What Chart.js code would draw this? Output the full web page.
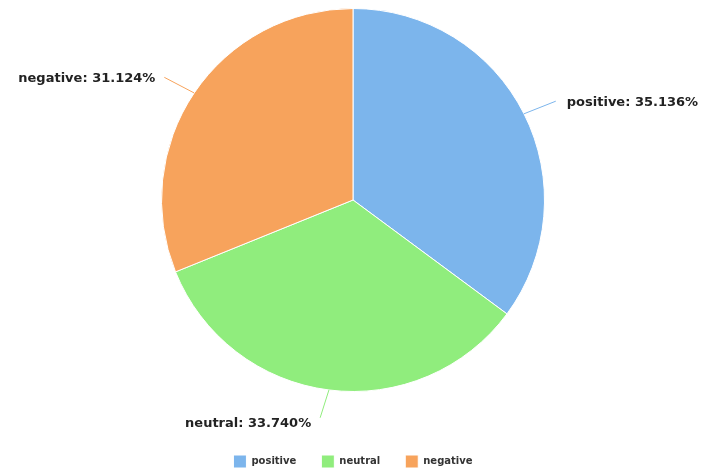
<!DOCTYPE html>
<html>
<head>
<meta charset="utf-8">
<script src="https://cdn.jsdelivr.net/npm/chart.js@4.4.0/dist/chart.umd.min.js"></script>
<style>
    html, body { margin: 0; padding: 0; background: #fff; }
    #wrap { width: 703px; height: 470px; }
</style>
</head>
<body>
<div id="wrap"><canvas id="sentimentChart" width="703" height="470"></canvas></div>
<script>
const categories = ['positive', 'neutral', 'negative'];
const shares = [35.136, 33.740, 31.124];
const sliceColors = ['#7cb5ec', '#90ed7d', '#f7a35c'];

// draws "name: value%" labels with a short connector line
const pieLabels = {
    id: 'pieLabels',
    afterDraw(chart) {
        const ctx = chart.ctx;
        const meta = chart.getDatasetMeta(0);
        ctx.save();
        ctx.font = 'bold 13px "DejaVu Sans", sans-serif';
        ctx.textBaseline = 'middle';
        meta.data.forEach((arc, i) => {
            const mid = (arc.startAngle + arc.endAngle) / 2;
            const cos = Math.cos(mid), sin = Math.sin(mid);
            const r = arc.outerRadius;
            const x0 = arc.x + cos * r, y0 = arc.y + sin * r;
            const side = cos >= 0 ? 1 : -1;
            const x1 = x0 + cos * 30 + side * 5;
            const y1 = y0 + sin * 28;
            ctx.strokeStyle = sliceColors[i];
            ctx.lineWidth = 1;
            ctx.beginPath();
            ctx.moveTo(x0, y0);
            ctx.lineTo(x1, y1);
            ctx.stroke();
            ctx.fillStyle = '#222';
            ctx.textAlign = side > 0 ? 'left' : 'right';
            const text = categories[i] + ': ' + shares[i].toFixed(3) + '%';
            ctx.fillText(text, x1 + (side > 0 ? 11 : -9), y1 + (sin > 0.8 ? 6 : 1));
        });
        ctx.restore();
    }
};

// keep the legend low without shrinking the pie
const legendHeight = {
    id: 'legendHeight',
    beforeInit(chart) {
        const fit = chart.legend.fit;
        chart.legend.fit = function () {
            fit.bind(chart.legend)();
            this.height = 78;
        };
    }
};

new Chart(document.getElementById('sentimentChart').getContext('2d'), {
    type: 'pie',
    data: {
        labels: categories,
        datasets: [{
            data: shares,
            backgroundColor: sliceColors,
            borderColor: '#ffffff',
            borderWidth: 1
        }]
    },
    options: {
        responsive: false,
        animation: false,
        layout: { padding: { top: 8, bottom: 0, left: 3, right: 0 } },
        plugins: {
            tooltip: { enabled: false },
            legend: {
                position: 'bottom',
                title: { display: true, text: '', padding: 0, font: { size: 38, lineHeight: 1 } },
                labels: {
                    boxWidth: 13,
                    boxHeight: 13,
                    padding: 25,
                    color: '#333',
                    font: { family: '"DejaVu Sans", sans-serif', size: 10, weight: 'bold' }
                }
            }
        }
    },
    plugins: [pieLabels, legendHeight]
});
</script>
</body>
</html>
